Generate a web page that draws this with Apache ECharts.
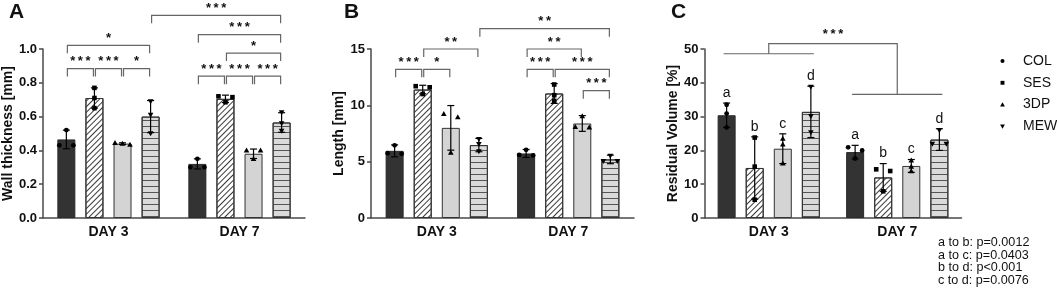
<!DOCTYPE html>
<html>
<head>
<meta charset="utf-8">
<script src="https://cdn.jsdelivr.net/npm/echarts@6/dist/echarts.min.js"></script>
<style>
html, body { margin: 0; padding: 0; background: #fff; }
#chart { width: 1059px; height: 289px; }
</style>
</head>
<body>
<div id="chart"></div>
<script>
const days = ['DAY 3', 'DAY 7'];
const groups = ['COL', 'SES', '3DP', 'MEW'];

// rows = group (COL, SES, 3DP, MEW), cols = day (3, 7)
const wallMean = [[0.465, 0.32], [0.71, 0.705], [0.44, 0.38], [0.60, 0.565]];
const wallSD = [[0.055, 0.03], [0.06, 0.022], [0.005, 0.028], [0.095, 0.058]];
const wallPts = [
  [[0.52, 0.43, 0.43], [0.35, 0.30, 0.30]],
  [[0.77, 0.71, 0.65], [0.72, 0.715, 0.685]],
  [[0.44, 0.445, 0.435], [0.40, 0.40, 0.35]],
  [[0.69, 0.61, 0.50], [0.625, 0.56, 0.515]]
];

const lenMean = [[5.96, 5.73], [11.4, 11.05], [8.0, 8.39], [6.47, 5.2]];
const lenSD = [[0.53, 0.35], [0.38, 0.88], [1.98, 0.7], [0.59, 0.38]];
const lenPts = [
  [[6.45, 5.75, 5.7], [6.05, 5.6, 5.55]],
  [[11.7, 11.6, 11.0], [11.85, 10.9, 10.4]],
  [[9.25, 8.95, 5.8], [9.05, 8.1, 8.05]],
  [[7.0, 6.55, 5.9], [5.5, 5.05, 5.05]]
];

const volMean = [[30.4, 19.5], [14.8, 12.0], [20.5, 15.4], [31.4, 23.2]];
const volSD = [[3.6, 2.0], [9.2, 4.1], [4.4, 1.9], [7.6, 3.2]];
const volPts = [
  [[33.5, 30.9, 26.8], [20.9, 20.0, 17.6]],
  [[23.8, 15.2, 5.4], [14.4, 13.9, 7.9]],
  [[23.5, 21.8, 16.2], [17.1, 15.2, 13.9]],
  [[38.8, 30.1, 25.3], [26.0, 21.9, 21.9]]
];
const volLetters = ['a', 'b', 'c', 'd'];

// significance brackets: [dayA, groupA, dayB, groupB, y level, stars]
const wallBrackets = [
  [0, 0, 0, 1, 0.884, '***'], [0, 1, 0, 2, 0.884, '***'], [0, 2, 0, 3, 0.884, '*'],
  [0, 0, 0, 3, 1.022, '*'],
  [1, 0, 1, 1, 0.839, '***'], [1, 1, 1, 2, 0.839, '***'], [1, 2, 1, 3, 0.839, '***'],
  [1, 1, 1, 3, 0.976, '*'], [1, 0, 1, 3, 1.085, '***'],
  [0, 3, 1, 3, 1.199, '***']
];
const lenBrackets = [
  [0, 0, 0, 1, 13.2, '***'], [0, 1, 0, 2, 13.2, '*'], [0, 1, 0, 3, 15.0, '**'],
  [1, 0, 1, 1, 13.2, '***'], [1, 1, 1, 3, 13.2, '***'], [1, 0, 1, 2, 15.0, '**'],
  [1, 2, 1, 3, 11.3, '***'],
  [0, 3, 1, 3, 16.8, '**']
];
// day 3 vs day 7 bracket in C: [day3 level, day7 level, top level, stars]
const volDayBracket = [48.6, 36.6, 51.6, '***'];

const footnote = ['a to b: p=0.0012', 'a to c: p=0.0403', 'b to d: p<0.001', 'c to d: p=0.0076'];

const FONT = 'Liberation Sans, Arial, sans-serif';
const BAR_W = 18;
const BAR_GAP = 0.56;
const STEP = BAR_W * (1 + BAR_GAP);

const barStyles = [
  { color: '#333333', borderColor: '#2a2a2a', borderWidth: 1 },
  { color: '#ffffff', borderColor: '#333', borderWidth: 1,
    decal: { symbol: 'rect', symbolSize: 1, color: '#3a3a3a', dashArrayX: [1, 0], dashArrayY: [1, 3], rotation: -Math.PI / 4 } },
  { color: '#d4d4d4', borderColor: '#333', borderWidth: 1 },
  { color: '#dadada', borderColor: '#333', borderWidth: 1,
    decal: { symbol: 'rect', symbolSize: 1, color: '#555', dashArrayX: [1, 0], dashArrayY: [1, 5], rotation: 0 } }
];

function barX (api, day, g) {
  return api.coord([day, 0])[0] + (g - 1.5) * STEP;
}

function pointShape (g, x, y, k) {
  const st = { fill: '#000' };
  const s = k || 1;
  if (g === 0) return { type: 'circle', shape: { cx: x, cy: y, r: 2.4 * s }, style: st };
  if (g === 1) return { type: 'rect', shape: { x: x - 2.3 * s, y: y - 2.3 * s, width: 4.6 * s, height: 4.6 * s }, style: st };
  if (g === 2) return { type: 'polygon', shape: { points: [[x, y - 2.8 * s], [x + 2.8 * s, y + 2.2 * s], [x - 2.8 * s, y + 2.2 * s]] }, style: st };
  return { type: 'polygon', shape: { points: [[x, y + 2.8 * s], [x + 2.8 * s, y - 2.2 * s], [x - 2.8 * s, y - 2.2 * s]] }, style: st };
}

function label (text, x, y, font, va) {
  return {
    type: 'text', x: x, y: y,
    style: { text: text, font: font, fill: '#111', align: 'center', textAlign: 'center',
      verticalAlign: va || 'bottom', textVerticalAlign: va || 'bottom' }
  };
}

const stars = s => s.split('').join('\u2009');

function makeRenderer (means, sds, pts, brackets, letters, dayBracket) {
  return function (params, api) {
    const children = [];
    const line = (x1, y1, x2, y2, color, w) => ({ type: 'line', shape: { x1, y1, x2, y2 }, style: { stroke: color, lineWidth: w } });
    for (let g = 0; g < 4; g++) {
      for (let d = 0; d < 2; d++) {
        const x = barX(api, d, g);
        const m = means[g][d];
        const s = sds[g][d];
        const yT = api.coord([d, m + s])[1];
        const yB = api.coord([d, m - s])[1];
        children.push(line(x, yT, x, yB, '#000', 1.2));
        children.push(line(x - 3.5, yT, x + 3.5, yT, '#000', 1.2));
        children.push(line(x - 3.5, yB, x + 3.5, yB, '#000', 1.2));
        // spread overlapping points sideways
        const ys = pts[g][d].map(v => api.coord([d, v])[1]).sort((a, b) => a - b);
        let i = 0;
        while (i < ys.length) {
          let j = i + 1;
          while (j < ys.length && ys[j] - ys[j - 1] < 4) j++;
          const n = j - i;
          const offs = n === 1 ? [0] : n === 2 ? [-7, 7] : [-7.5, 0, 7.5];
          for (let k = 0; k < n; k++) children.push(pointShape(g, x + offs[k], ys[i + k]));
          i = j;
        }
        if (letters) children.push(label(letters[g], x, yT - 3, '14px ' + FONT));
      }
    }
    brackets.forEach(b => {
      const x1 = barX(api, b[0], b[1]) + 1;
      const x2 = barX(api, b[2], b[3]) - 1;
      const y = api.coord([0, b[4]])[1];
      children.push({ type: 'polyline', shape: { points: [[x1, y + 8], [x1, y], [x2, y], [x2, y + 8]] },
        style: { stroke: '#666', lineWidth: 1.2, fill: null } });
      children.push(label(stars(b[5]), (x1 + x2) / 2, y - 0.5, 'bold 13px ' + FONT));
    });
    if (dayBracket) {
      const y3 = api.coord([0, dayBracket[0]])[1];
      const y7 = api.coord([0, dayBracket[1]])[1];
      const yTop = api.coord([0, dayBracket[2]])[1];
      const c3 = api.coord([0, 0])[0];
      const c7 = api.coord([1, 0])[0];
      const gray = '#666';
      children.push(line(barX(api, 0, 0) - 3, y3, barX(api, 0, 3) + 3, y3, gray, 1.2));
      children.push(line(barX(api, 1, 0) - 3, y7, barX(api, 1, 3) + 3, y7, gray, 1.2));
      children.push({ type: 'polyline', shape: { points: [[c3, y3], [c3, yTop], [c7, yTop], [c7, y7]] },
        style: { stroke: gray, lineWidth: 1.2, fill: null } });
      children.push(label(stars(dayBracket[3]), (c3 + c7) / 2, yTop - 3, 'bold 13px ' + FONT));
    }
    return { type: 'group', children: children };
  };
}

const panels = [
  { left: 39, width: 266, max: 1.0, interval: 0.2, name: 'Wall thickness [mm]', gap: 26, fmt: v => v.toFixed(1),
    means: wallMean, sds: wallSD, pts: wallPts, brackets: wallBrackets },
  { left: 371, width: 263, max: 15, interval: 5, name: 'Length [mm]', gap: 22, fmt: v => String(v),
    means: lenMean, sds: lenSD, pts: lenPts, brackets: lenBrackets },
  { left: 704.5, width: 257, max: 50, interval: 10, name: 'Residual Volume [%]', gap: 23, fmt: v => String(v),
    means: volMean, sds: volSD, pts: volPts, brackets: [], letters: volLetters, dayBracket: volDayBracket }
];

const axisColor = '#4a4a4a';
const grid = [];
const xAxis = [];
const yAxis = [];
const series = [];

panels.forEach((p, i) => {
  grid.push({ left: p.left, top: 49, width: p.width, height: 169 });
  xAxis.push({
    type: 'category', gridIndex: i, data: days,
    axisLine: { lineStyle: { color: axisColor, width: 1.5 } },
    axisTick: { alignWithLabel: true, length: 4, lineStyle: { color: axisColor, width: 1.5 } },
    axisLabel: { fontFamily: FONT, fontWeight: 'bold', fontSize: 14, color: '#111', margin: 7 }
  });
  yAxis.push({
    type: 'value', gridIndex: i, min: 0, max: p.max, interval: p.interval,
    name: p.name, nameLocation: 'middle', nameGap: p.gap,
    nameTextStyle: { fontFamily: FONT, fontWeight: 'bold', fontSize: 14, color: '#111' },
    axisLine: { show: true, lineStyle: { color: axisColor, width: 1.5 } },
    axisTick: { show: true, length: 4, lineStyle: { color: axisColor, width: 1.5 } },
    splitLine: { show: false },
    axisLabel: { fontFamily: FONT, fontWeight: 'bold', fontSize: 13, color: '#111', margin: 6, formatter: p.fmt }
  });
  groups.forEach((g, k) => {
    series.push({
      type: 'bar', name: g, xAxisIndex: i, yAxisIndex: i,
      data: p.means[k], barWidth: BAR_W, barGap: (BAR_GAP * 100) + '%',
      itemStyle: barStyles[k], silent: true
    });
  });
  series.push({
    type: 'custom', xAxisIndex: i, yAxisIndex: i, clip: false, silent: true, z: 10,
    data: [[0, 0]],
    renderItem: makeRenderer(p.means, p.sds, p.pts, p.brackets, p.letters, p.dayBracket)
  });
});

// legend drawn as graphic: small black marker + name
const legendGraphic = [];
groups.forEach((g, k) => {
  const cy = 61 + k * 21.8;
  legendGraphic.push(pointShape(k, 1002.5, cy, 0.85));
  legendGraphic.push({ type: 'text', x: 1023, y: cy,
    style: { text: g, font: '14px ' + FONT, fill: '#111', textVerticalAlign: 'middle', verticalAlign: 'middle' } });
});

const chart = echarts.init(document.getElementById('chart'), null, { renderer: 'canvas' });
chart.setOption({
  animation: false,
  backgroundColor: '#fff',
  textStyle: { fontFamily: FONT },
  grid: grid,
  xAxis: xAxis,
  yAxis: yAxis,
  series: series,
  graphic: [
    { type: 'text', left: 9, top: 2, style: { text: 'A', font: 'bold 21px ' + FONT, fill: '#111' } },
    { type: 'text', left: 344, top: 2, style: { text: 'B', font: 'bold 21px ' + FONT, fill: '#111' } },
    { type: 'text', left: 671, top: 2, style: { text: 'C', font: 'bold 21px ' + FONT, fill: '#111' } },
    { type: 'text', left: 938, top: 236, style: { text: footnote.join('\n'), font: '12.6px ' + FONT, lineHeight: 12.7, fill: '#111' } }
  ].concat(legendGraphic)
});
window.onresize = () => chart.resize();
</script>
</body>
</html>
